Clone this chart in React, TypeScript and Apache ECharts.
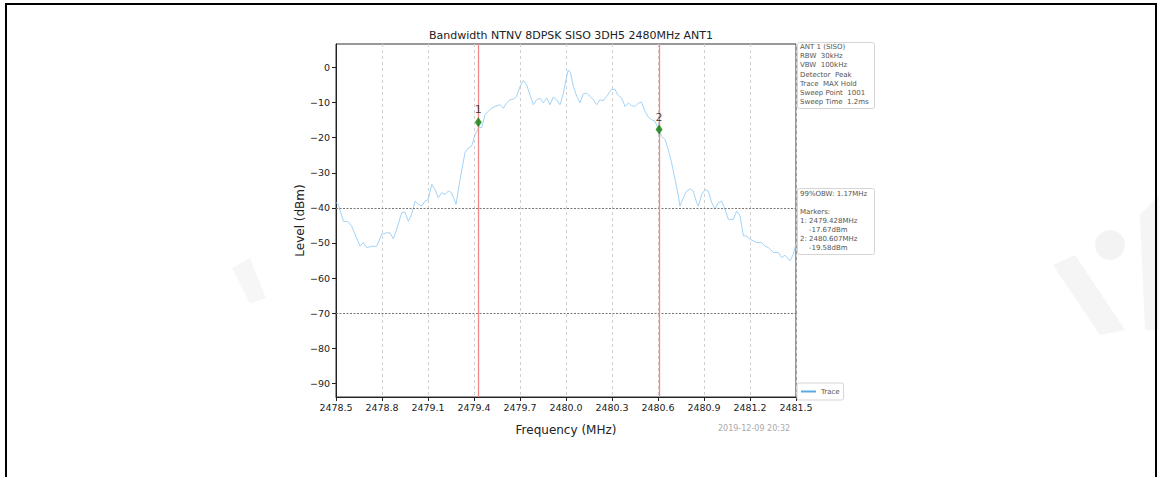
import React, { useEffect, useRef } from "react";
import * as echarts from "echarts";

// ---- data ----
const TITLE = "Bandwidth NTNV 8DPSK SISO 3DH5 2480MHz ANT1";
const X_TICKS = [2478.5, 2478.8, 2479.1, 2479.4, 2479.7, 2480.0, 2480.3, 2480.6, 2480.9, 2481.2, 2481.5];
const Y_TICKS = [0, -10, -20, -30, -40, -50, -60, -70, -80, -90];
const Y_MIN = -93.9;
const Y_MAX = 6.7;

const FREQ = [
  2478.500, 2478.515, 2478.548, 2478.580, 2478.602, 2478.624, 2478.657, 2478.678, 2478.700, 2478.743,
  2478.765, 2478.798, 2478.830, 2478.852, 2478.874, 2478.896, 2478.928, 2478.950, 2478.972, 2478.993,
  2479.015, 2479.037, 2479.059, 2479.080, 2479.102, 2479.124, 2479.146, 2479.167, 2479.189, 2479.211,
  2479.233, 2479.254, 2479.283, 2479.309, 2479.341, 2479.363, 2479.385, 2479.407, 2479.433, 2479.450,
  2479.472, 2479.493, 2479.515, 2479.537, 2479.570, 2479.591, 2479.613, 2479.635, 2479.657, 2479.678,
  2479.700, 2479.722, 2479.743, 2479.765, 2479.787, 2479.809, 2479.830, 2479.852, 2479.874, 2479.896,
  2479.917, 2479.939, 2479.961, 2479.983, 2480.004, 2480.015, 2480.030, 2480.048, 2480.070, 2480.091,
  2480.113, 2480.135, 2480.157, 2480.178, 2480.200, 2480.222, 2480.243, 2480.265, 2480.298, 2480.320,
  2480.341, 2480.363, 2480.385, 2480.407, 2480.428, 2480.450, 2480.472, 2480.493, 2480.515, 2480.537,
  2480.559, 2480.580, 2480.602, 2480.624, 2480.646, 2480.667, 2480.689, 2480.711, 2480.733, 2480.743,
  2480.765, 2480.787, 2480.809, 2480.830, 2480.852, 2480.863, 2480.885, 2480.907, 2480.928, 2480.950,
  2480.972, 2480.993, 2481.015, 2481.037, 2481.059, 2481.091, 2481.113, 2481.135, 2481.157, 2481.178,
  2481.200, 2481.222, 2481.243, 2481.276, 2481.298, 2481.320, 2481.352, 2481.385, 2481.407, 2481.428,
  2481.461, 2481.483, 2481.498,
];
const LEVEL = [
  -38.5, -39.0, -43.8, -44.0, -45.2, -47.5, -50.9, -49.9, -51.3, -50.9,
  -51.0, -47.5, -47.1, -47.1, -48.8, -46.1, -41.4, -41.2, -43.8, -41.9,
  -38.1, -39.0, -39.5, -38.1, -37.6, -33.3, -34.8, -37.1, -35.7, -36.2,
  -35.2, -35.7, -39.0, -31.9, -24.3, -22.9, -22.4, -19.1, -17.0, -17.2,
  -13.4, -12.5, -11.6, -11.1, -10.6, -11.6, -10.1, -9.2, -9.0, -8.2,
  -5.4, -3.7, -4.9, -7.8, -10.6, -9.2, -8.7, -10.1, -8.7, -10.6,
  -8.4, -9.2, -10.6, -7.3, -2.6, -0.7, -1.6, -5.4, -8.2, -10.1,
  -7.5, -7.3, -8.2, -9.2, -10.6, -9.2, -9.5, -8.2, -6.2, -6.3,
  -8.0, -8.7, -11.1, -10.1, -10.9, -11.1, -10.1, -9.9, -12.5, -14.1,
  -14.9, -15.3, -17.5, -19.6, -20.5, -23.4, -27.2, -31.9, -36.6, -39.5,
  -37.1, -35.2, -34.6, -35.2, -38.5, -39.5, -36.2, -34.8, -35.2, -38.5,
  -40.4, -38.5, -38.1, -40.4, -43.3, -43.3, -40.9, -42.3, -48.0, -48.0,
  -49.0, -49.4, -49.9, -49.9, -50.9, -51.3, -52.7, -52.7, -54.2, -53.5,
  -55.1, -53.2, -50.4,
];

const MARKER_NAMES = ["1", "2"];
const MARKER_FREQ = [2479.428, 2480.607];
const MARKER_LEVEL = [-15.6, -17.7];
const THRESHOLDS = [-40, -70];

const INFO_TOP = [
  "ANT 1 (SISO)",
  "RBW  30kHz",
  "VBW  100kHz",
  "Detector  Peak",
  "Trace  MAX Hold",
  "Sweep Point  1001",
  "Sweep Time  1.2ms",
];
const INFO_MID = [
  "99%OBW: 1.17MHz",
  "",
  "Markers:",
  "1: 2479.428MHz",
  "    -17.67dBm",
  "2: 2480.607MHz",
  "    -19.58dBm",
];
const TIMESTAMP = "2019-12-09 20:32";
const SERIES_NAME = "Trace";

const FONT = "DejaVu Sans";

export default function App() {
  const ref = useRef<HTMLDivElement>(null);

  useEffect(() => {
    if (!ref.current) return;
    const chart = echarts.init(ref.current, null, { renderer: "svg" });
    const base = X_TICKS[0];
    const span = X_TICKS[X_TICKS.length - 1] - base;
    const step = X_TICKS[1] - X_TICKS[0];
    const off = (f: number) => +(f - base).toFixed(4);

    const traceData = FREQ.map((f, i) => [off(f), LEVEL[i]]);
    const markerData = MARKER_FREQ.map((f, i) => ({
      value: [off(f), MARKER_LEVEL[i]],
      name: MARKER_NAMES[i],
    }));

    const option: any = {
      animation: false,
      backgroundColor: "#ffffff",
      title: {
        text: TITLE,
        left: 566,
        textAlign: "center",
        top: 25,
        textStyle: { fontFamily: FONT, fontSize: 11, fontWeight: "normal", color: "#222" },
      },
      grid: {
        left: 336,
        top: 44,
        width: 460,
        height: 353,
        show: true,
        borderColor: "#333",
        borderWidth: 1,
        backgroundColor: "transparent",
      },
      legend: {
        data: [{ name: SERIES_NAME, itemStyle: { color: "#5aaae6" } }],
        left: 797,
        top: 383,
        orient: "vertical",
        icon: "rect",
        itemWidth: 15,
        itemHeight: 2,
        itemGap: 2,
        padding: [5, 4, 5, 4],
        borderColor: "#d5d5d5",
        borderWidth: 1,
        borderRadius: 2,
        backgroundColor: "#fff",
        textStyle: { fontFamily: FONT, fontSize: 7, color: "#555" },
      },
      xAxis: {
        type: "value",
        min: 0,
        max: span,
        interval: step,
        name: "Frequency (MHz)",
        nameLocation: "middle",
        nameGap: 27,
        nameTextStyle: { fontFamily: FONT, fontSize: 12, color: "#222" },
        axisLine: { show: true, onZero: false, lineStyle: { color: "#222", width: 1 } },
        axisTick: { show: true, inside: false, length: 4, lineStyle: { color: "#222" } },
        axisLabel: {
          fontFamily: FONT,
          fontSize: 9.5,
          color: "#222",
          margin: 5,
          formatter: (v: number) => (base + v).toFixed(1),
        },
        splitLine: { show: true, lineStyle: { color: "#d0d0d0", type: [3, 3], width: 1 } },
      },
      yAxis: {
        type: "value",
        min: Y_MIN,
        max: Y_MAX,
        name: "Level (dBm)",
        nameLocation: "middle",
        nameGap: 30,
        nameTextStyle: { fontFamily: FONT, fontSize: 12, color: "#222" },
        axisLine: { show: true, onZero: false, lineStyle: { color: "#222", width: 1 } },
        axisTick: { show: true, inside: false, length: 4, customValues: Y_TICKS, lineStyle: { color: "#222" } },
        axisLabel: {
          fontFamily: FONT,
          fontSize: 9.5,
          color: "#222",
          margin: 6,
          customValues: Y_TICKS,
          formatter: (v: number) => (v === 0 ? "0" : (v < 0 ? "\u2212" : "") + Math.abs(Math.round(v))),
        },
        splitLine: { show: false },
      },
      series: [
        {
          name: SERIES_NAME,
          type: "line",
          data: traceData,
          showSymbol: false,
          symbol: "none",
          smooth: false,
          itemStyle: { color: "#5aaae6" },
          lineStyle: { color: "#a2d3f6", width: 1 },
          markLine: {
            silent: true,
            symbol: "none",
            label: { show: false },
            lineStyle: { color: "#777", type: [2, 1.5], width: 1 },
            data: THRESHOLDS.map((t) => ({ yAxis: t })),
          },
          z: 3,
        },
        {
          name: "markers",
          type: "scatter",
          data: markerData,
          symbol: "diamond",
          symbolSize: [7, 10],
          itemStyle: { color: "#0a7d0a" },
          label: {
            show: true,
            position: "top",
            distance: 2,
            formatter: (p: any) => p.name,
            fontFamily: FONT,
            fontSize: 11,
            color: "#222",
          },
          markLine: {
            silent: true,
            symbol: "none",
            label: { show: false },
            lineStyle: { color: "#f08a8a", type: "solid", width: 1.3, opacity: 1 },
            emphasis: { disabled: true },
            data: MARKER_FREQ.map((f) => ({ xAxis: off(f) })),
          },
          z: 5,
        },
      ],
      graphic: [
        // document frame lines
        { type: "rect", shape: { x: 5, y: 3, width: 1152, height: 2 }, style: { fill: "#000" } },
        { type: "rect", shape: { x: 5, y: 3, width: 2, height: 474 }, style: { fill: "#000" } },
        { type: "rect", shape: { x: 1155, y: 3, width: 2, height: 474 }, style: { fill: "#000" } },
        // faint watermark shapes
        { type: "polygon", shape: { points: [[1053, 265], [1075, 255], [1125, 330], [1100, 335]] }, style: { fill: "#f5f5f5" }, z: -1 },
        { type: "circle", shape: { cx: 1110, cy: 245, r: 15 }, style: { fill: "#f3f3f3" }, z: -1 },
        { type: "polygon", shape: { points: [[1140, 215], [1159, 195], [1159, 330], [1145, 330]] }, style: { fill: "#f5f5f5" }, z: -1 },
        { type: "polygon", shape: { points: [[232, 268], [250, 258], [266, 298], [250, 304]] }, style: { fill: "#f6f6f6" }, z: -1 },
        // info box (top)
        {
          type: "rect",
          shape: { x: 797.5, y: 42.5, width: 77, height: 66, r: 2 },
          style: { fill: "#fff", stroke: "#d5d5d5", lineWidth: 1 },
          z: 10,
        },
        {
          type: "text",
          x: 800,
          y: 42,
          style: { text: INFO_TOP.join("\n"), font: `7px "${FONT}"`, lineHeight: 9.3, fill: "#555" },
          z: 11,
        },
        // info box (middle)
        {
          type: "rect",
          shape: { x: 797.5, y: 188.5, width: 77, height: 66, r: 2 },
          style: { fill: "#fff", stroke: "#d5d5d5", lineWidth: 1 },
          z: 10,
        },
        {
          type: "text",
          x: 800,
          y: 189,
          style: { text: INFO_MID.join("\n"), font: `7px "${FONT}"`, lineHeight: 9, fill: "#555" },
          z: 11,
        },
        // timestamp
        {
          type: "text",
          x: 718,
          y: 424,
          style: { text: TIMESTAMP, font: `8px "${FONT}"`, fill: "#aaa" },
          z: 11,
        },
      ],
    };
    chart.setOption(option);
    return () => chart.dispose();
  }, []);

  return (
    <div
      ref={ref}
      style={{ position: "absolute", left: 0, top: 0, width: 1159, height: 477, background: "#fff" }}
    />
  );
}
